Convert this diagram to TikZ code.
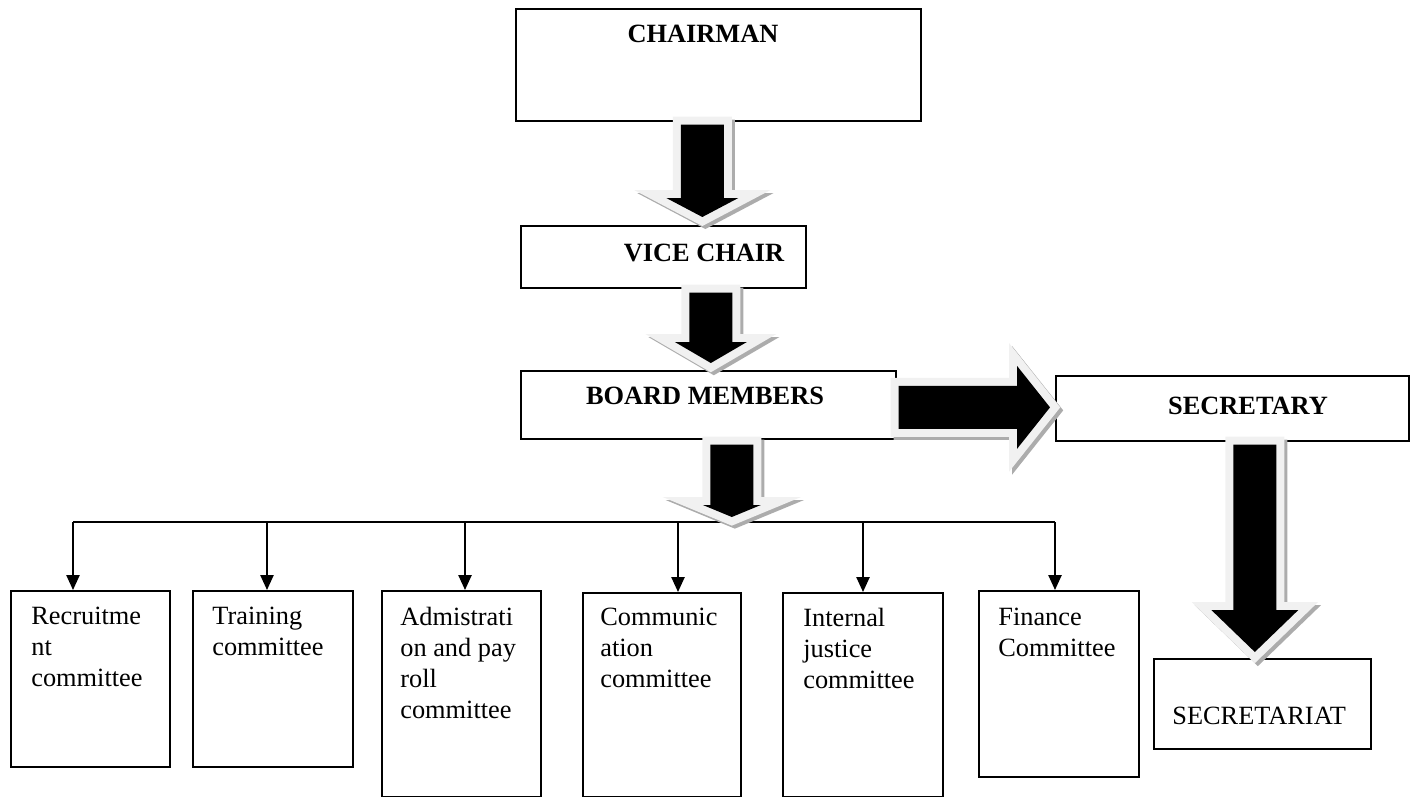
\documentclass[tikz,border=0pt]{standalone}
\usepackage{fontspec}
\setmainfont{Liberation Serif}
\usepackage{tikz}
\usetikzlibrary{positioning,calc,arrows.meta}
\definecolor{rimgray}{RGB}{241,241,241}
\definecolor{shadegray}{RGB}{172,172,172}

\begin{document}
\begin{tikzpicture}[x=0.02cm,y=-0.02cm,font=\fontsize{15}{17.6}\selectfont]
                \tikzset{Box/.style={%
                    shape=rectangle,%
                    draw=black,%
                    line width=1pt,%
                    inner sep=0pt,%
                    anchor=north west,%
                },
                Title/.style={%
                    font=\fontsize{15}{17.6}\selectfont\bfseries,%
                    inner sep=0pt,%
                },
                Label/.style={%
                    align=left,%
                    inner sep=0pt,%
                },
                Drop/.style={%
                    line width=1pt,%
                    -{Triangle[length=8.5pt,width=7.5pt]},%
                },
                Fat/.style 2 args={%
                    fill=black,%
                    preaction={draw=shadegray, line width=0.32cm, transform canvas={shift={(3,3)}}},%
                    preaction={draw=rimgray, line width=0.32cm},%
                    to path={%
                        ($(\tikztostart)!0.43cm!90:(\tikztotarget)$)
                        -- ($($(\tikztotarget)!#2!(\tikztostart)$)!0.43cm!90:(\tikztotarget)$)
                        -- ($($(\tikztotarget)!#2!(\tikztostart)$)!#1!90:(\tikztotarget)$)
                        -- (\tikztotarget)
                        -- ($($(\tikztotarget)!#2!(\tikztostart)$)!#1!-90:(\tikztotarget)$)
                        -- ($($(\tikztotarget)!#2!(\tikztostart)$)!0.43cm!-90:(\tikztotarget)$)
                        -- ($(\tikztostart)!0.43cm!-90:(\tikztotarget)$)
                        -- cycle},%
                }}

                \useasboundingbox (0,0) rectangle (1410,797);

                % top of the chart
                \node[Box, minimum width=8.1cm, minimum height=2.24cm] (chair) at (515,8) {};
                \node[Box, minimum width=5.7cm, minimum height=1.24cm] (vice) at (520,225) {};
                \node[Box, minimum width=7.5cm, minimum height=1.36cm] (board) at (520,370) {};
                \node[Box, minimum width=7.06cm, minimum height=1.3cm] (sec) at (1055,375) {};
                \node[Box, minimum width=4.34cm, minimum height=1.8cm] (sect) at (1153,658) {};

                \node[Title] (chairtxt) at (703,34) {CHAIRMAN};
                \node[Title] (vicetxt) at (704,253) {VICE CHAIR};
                \node[Title] (boardtxt) at (705,396) {BOARD MEMBERS};
                \node[Title] (sectxt) at (1248,406) {SECRETARY};
                \node[Label, below right=0.98cm and 0.38cm of sect.north west] (secttxt) {SECRETARIAT};

                % committees
                \node[Box, minimum width=3.18cm, minimum height=3.52cm] (rec) at (10,590) {};
                \node[Box, minimum width=3.2cm, minimum height=3.52cm] (trn) at (192,590) {};
                \node[Box, minimum width=3.18cm, minimum height=4.12cm] (adm) at (381,590) {};
                \node[Box, minimum width=3.16cm, minimum height=4.08cm] (com) at (582,592) {};
                \node[Box, minimum width=3.2cm, minimum height=4.08cm] (ijc) at (782,592) {};
                \node[Box, minimum width=3.2cm, minimum height=3.72cm] (fin) at (978,590) {};

                \node[Label, below right=0.34cm and 0.42cm of rec.north west] (rectxt) {Recruitme\\nt\\committee};
                \node[Label, below right=0.34cm and 0.4cm of trn.north west] (trntxt) {Training\\committee};
                \node[Label, below right=0.34cm and 0.38cm of adm.north west] (admtxt) {Admistrati\\on and pay\\roll\\committee};
                \node[Label, below right=0.32cm and 0.36cm of com.north west] (comtxt) {Communic\\ation\\committee};
                \node[Label, below right=0.32cm and 0.42cm of ijc.north west] (ijctxt) {Internal\\justice\\committee};
                \node[Label, below right=0.36cm and 0.4cm of fin.north west] (fintxt) {Finance\\Committee};

                % branch line
                \coordinate (d1) at (73,522);
                \coordinate (d2) at (267,522);
                \coordinate (d3) at (465,522);
                \coordinate (d4) at (678,522);
                \coordinate (d5) at (863,522);
                \coordinate (d6) at (1055,522);
                \draw[line width=1pt] (d1) -- (d6);
                \foreach \d/\b in {d1/rec, d2/trn, d3/adm, d4/com, d5/ijc, d6/fin}
                    \draw[Drop] (\d) -- (\d |- \b.north);

                % block arrows
                \coordinate (a1) at ($(chair.south)+(-16,3)$);
                \coordinate (b1) at ($(a1 |- vice.north)+(0,-8)$);
                \coordinate (a2) at ($(vice.south)+(47.5,4)$);
                \coordinate (b2) at ($(a2 |- board.north)+(0,-7)$);
                \coordinate (a3) at ($(board.east)+(2,2.5)$);
                \coordinate (b3) at ($(a3 -| sec.west)+(-5,0)$);
                \coordinate (a4) at ($(sec.south)+(22.5,3)$);
                \coordinate (b4) at ($(a4 |- sect.north)+(0,-6)$);
                \coordinate (a5) at ($(board.south)+(23.5,5)$);
                \coordinate (b5) at ($(a5 |- d1)+(0,-5)$);

                \path[Fat={0.72cm}{0.38cm}] (a1) to (b1);
                \path[Fat={0.72cm}{0.42cm}] (a2) to (b2);
                \path[Fat={0.83cm}{0.66cm}] (a3) to (b3);
                \path[Fat={0.87cm}{0.84cm}] (a4) to (b4);
                \path[Fat={0.58cm}{0.24cm}] (a5) to (b5);
\end{tikzpicture}
\end{document}
